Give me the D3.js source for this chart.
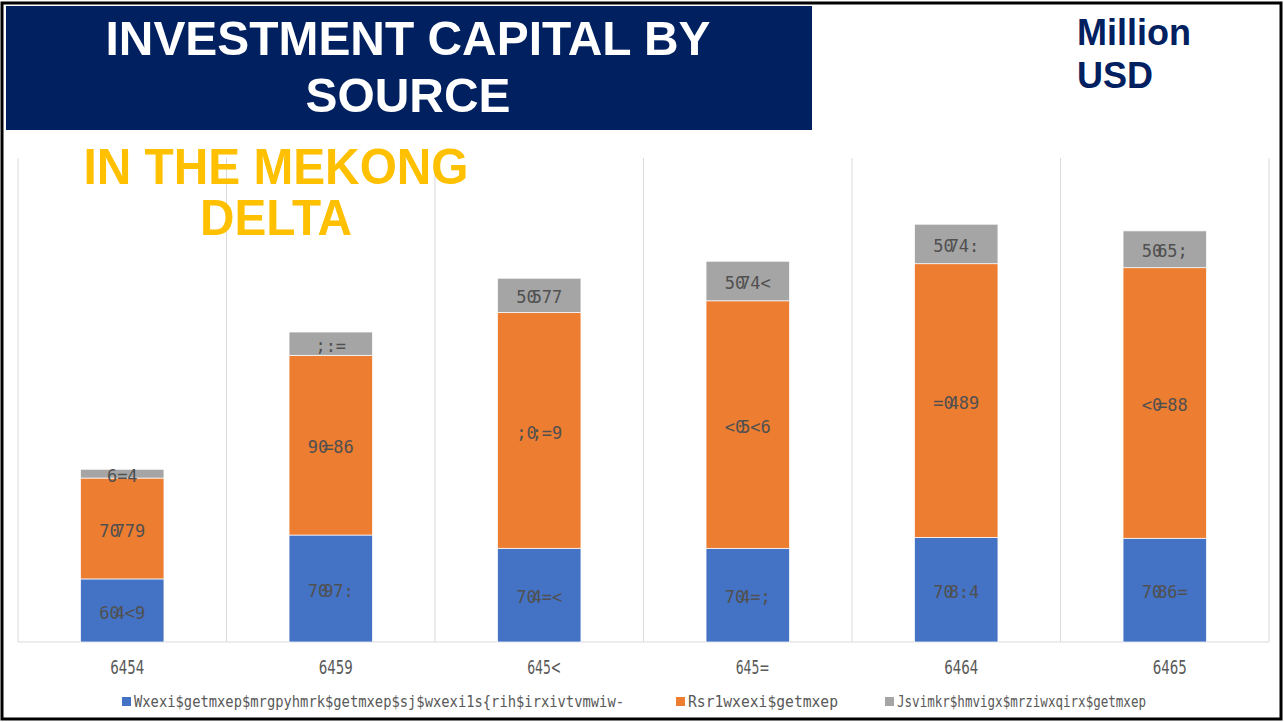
<!DOCTYPE html>
<html>
<head>
    <meta charset="utf-8">
    <title>Investment capital by source</title>
    <script src="https://d3js.org/d3.v7.min.js"></script>
    <style>
        body, html {
            margin: 0;
            padding: 0;
            background: #fff;
        }
        svg {
            display: block;
        }
        .title text {
            font-family: "Liberation Sans", Arial, sans-serif;
            font-weight: bold;
        }
        .val {
            font-family: "DejaVu Sans Mono", monospace;
            font-size: 17px;
            fill: #505050;
            text-anchor: middle;
        }
        .tick-label {
            font-family: "Liberation Sans Narrow", "DejaVu Sans Condensed", sans-serif;
            font-size: 19px;
            fill: #595959;
            text-anchor: middle;
        }
        .legend text {
            font-family: "DejaVu Sans Mono", monospace;
            font-size: 16px;
            fill: #595959;
        }
    </style>
</head>
<body>
<svg width="1284" height="722"></svg>
<script>
    // data (million USD)
    const years = [2010, 2015, 2018, 2019, 2020, 2021];
    const stateCapital = [2085, 3536, 3098, 3097, 3460, 3429];
    const nonStateCapital = [3335, 5942, 7795, 8182, 9045, 8944];
    const fdiCapital = [290, 769, 1133, 1308, 1306, 1217];

    const seriesNames = [
        "State capital including capital of state-owned enterprises)",
        "Non-state capital",
        "Foreign direct investment capital"
    ];
    const seriesColors = ["#4472C4", "#ED7D31", "#A5A5A5"];

    // the source picture shows every label with its character codes moved by 4
    function shifted(s) {
        return Array.from(String(s)).map(c => String.fromCharCode(c.charCodeAt(0) + 4)).join("");
    }

    const svg = d3.select("svg");

    // frame
    svg.append("rect")
        .attr("x", 2).attr("y", 3)
        .attr("width", 1279).attr("height", 716)
        .attr("fill", "none")
        .attr("stroke", "#000")
        .attr("stroke-width", 3);

    const keys = ["state", "nonState", "fdi"];
    const table = years.map((y, i) => ({
        year: y,
        state: stateCapital[i],
        nonState: nonStateCapital[i],
        fdi: fdiCapital[i]
    }));

    const x = d3.scaleBand()
        .domain(years)
        .range([18, 1269])
        .paddingInner(0.6)
        .paddingOuter(0.3);

    const y = d3.scaleLinear()
        .domain([0, 16000])
        .range([642, 158]);

    const step = x.step();
    const gridX = d3.range(years.length + 1).map(i => 18 + i * step);

    // vertical grid lines between categories
    svg.append("g")
        .selectAll("line")
        .data(gridX)
        .join("line")
        .attr("x1", d => d).attr("x2", d => d)
        .attr("y1", y.range()[1]).attr("y2", y(0))
        .attr("stroke", "#d9d9d9")
        .attr("stroke-width", 1);

    svg.append("line")
        .attr("x1", 18).attr("x2", 1269)
        .attr("y1", y(0)).attr("y2", y(0))
        .attr("stroke", "#d9d9d9")
        .attr("stroke-width", 1.2);

    const stacked = d3.stack().keys(keys)(table);

    const layers = svg.append("g")
        .selectAll("g")
        .data(stacked)
        .join("g")
        .attr("fill", (d, i) => seriesColors[i]);

    layers.selectAll("rect")
        .data(d => d)
        .join("rect")
        .attr("x", d => x(d.data.year))
        .attr("width", x.bandwidth())
        .attr("y", d => y(d[1]))
        .attr("height", d => y(d[0]) - y(d[1]))
        .attr("stroke", "#fff")
        .attr("stroke-width", 0.7);

    // value labels, the glyph after the thousands mark overlaps like in the picture
    const fmt = d3.format(",");
    const labels = svg.append("g")
        .selectAll("g")
        .data(stacked)
        .join("g")
        .selectAll("text")
        .data(d => d)
        .join("text")
        .attr("class", "val")
        .attr("x", d => x(d.data.year) + x.bandwidth() / 2)
        .attr("y", d => (y(d[0]) + y(d[1])) / 2 + 2)
        .attr("dy", "0.36em");

    labels.each(function(d) {
        const txt = shifted(fmt(d[1] - d[0]));
        const cut = (d[1] - d[0]) >= 1000 ? 2 : txt.length;
        const t = d3.select(this);
        t.append("tspan").text(txt.slice(0, cut));
        if (cut < txt.length) {
            t.append("tspan").attr("dx", -5).text(txt.slice(cut));
        }
    });

    // category labels
    svg.append("g")
        .selectAll("text")
        .data(years)
        .join("text")
        .attr("class", "tick-label")
        .attr("x", d => x(d) + x.bandwidth() / 2 + 5)
        .attr("y", 674)
        .attr("textLength", 34)
        .attr("lengthAdjust", "spacingAndGlyphs")
        .text(d => shifted(d));

    // legend
    const legendX = [122, 676, 885];
    const legendW = [490, 150, 249];
    const legend = svg.append("g")
        .attr("class", "legend")
        .selectAll("g")
        .data(seriesNames)
        .join("g")
        .attr("transform", (d, i) => `translate(${legendX[i]},697)`);

    legend.append("rect")
        .attr("width", 9).attr("height", 9)
        .attr("fill", (d, i) => seriesColors[i]);

    legend.append("text")
        .attr("x", 12)
        .attr("y", 10)
        .attr("textLength", (d, i) => legendW[i])
        .attr("lengthAdjust", "spacingAndGlyphs")
        .text(d => shifted(d));

    // title block
    const title = svg.append("g").attr("class", "title");

    title.append("rect")
        .attr("x", 6).attr("y", 6)
        .attr("width", 806).attr("height", 124)
        .attr("fill", "#002060");

    title.append("text")
        .attr("x", 408).attr("y", 55)
        .attr("text-anchor", "middle")
        .attr("font-size", 49)
        .attr("textLength", 605)
        .attr("lengthAdjust", "spacingAndGlyphs")
        .attr("fill", "#fff")
        .text("INVESTMENT CAPITAL BY");

    title.append("text")
        .attr("x", 408).attr("y", 112)
        .attr("text-anchor", "middle")
        .attr("font-size", 49)
        .attr("textLength", 205)
        .attr("lengthAdjust", "spacingAndGlyphs")
        .attr("fill", "#fff")
        .text("SOURCE");

    title.append("text")
        .attr("x", 276).attr("y", 184)
        .attr("text-anchor", "middle")
        .attr("font-size", 50)
        .attr("textLength", 385)
        .attr("lengthAdjust", "spacingAndGlyphs")
        .attr("fill", "#FFC000")
        .text("IN THE MEKONG");

    title.append("text")
        .attr("x", 276).attr("y", 235)
        .attr("text-anchor", "middle")
        .attr("font-size", 50)
        .attr("textLength", 152)
        .attr("lengthAdjust", "spacingAndGlyphs")
        .attr("fill", "#FFC000")
        .text("DELTA");

    title.append("text")
        .attr("x", 1077).attr("y", 45)
        .attr("font-size", 36)
        .attr("fill", "#002060")
        .text("Million");

    title.append("text")
        .attr("x", 1077).attr("y", 88)
        .attr("font-size", 36)
        .attr("fill", "#002060")
        .text("USD");
</script>
</body>
</html>
